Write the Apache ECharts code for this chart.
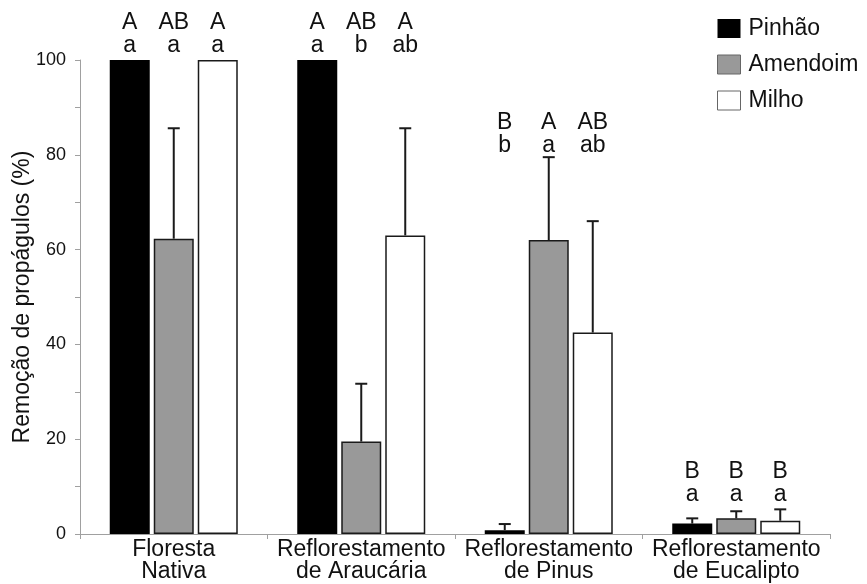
<!DOCTYPE html>
<html>
<head>
<meta charset="utf-8">
<script src="https://cdn.jsdelivr.net/npm/echarts@6/dist/echarts.min.js"></script>
<style>
  html, body { margin: 0; padding: 0; background: #fff; }
  #chart { width: 867px; height: 584px; }
</style>
</head>
<body>
<div id="chart"></div>
<script>
// categorias (ambientes)
const categories = ['Floresta\nNativa', 'Reflorestamento\nde Araucária', 'Reflorestamento\nde Pinus', 'Reflorestamento\nde Eucalipto'];
const seriesNames = ['Pinhão', 'Amendoim', 'Milho'];
const seriesColors = ['#000000', '#999999', '#ffffff'];

// remoção média (%)
const pinhao = [100, 100, 0.8, 2.2];
const amendoim = [62.3, 19.5, 62, 3.3];
const milho = [100, 63, 42.5, 2.8];

// limite superior da barra de erro (null = sem barra)
const pinhaoErr = [null, null, 2.1, 3.3];
const amendoimErr = [85.6, 31.7, 79.5, 4.8];
const milhoErr = [null, 85.6, 66, 5.2];

// letras (maiúscula entre ambientes, minúscula entre propágulos)
const upperLetters = [['A', 'AB', 'A'], ['A', 'AB', 'A'], ['B', 'A', 'AB'], ['B', 'B', 'B']];
const lowerLetters = [['a', 'a', 'a'], ['a', 'b', 'ab'], ['b', 'a', 'ab'], ['a', 'a', 'a']];
// altura (valor do eixo) onde fica a base das letras em cada grupo
const letterBase = [100.5, 100.5, 79.5, 5.8];

const yTicks = [0, 20, 40, 60, 80, 100];

const FONT = '"Liberation Sans", Arial, sans-serif';
const BIG = 23;
const BAR_W = 40;
const BAR_GAP = 4;
const offsets = [-(BAR_W + BAR_GAP), 0, BAR_W + BAR_GAP];

const values = [pinhao, amendoim, milho];
const errs = [pinhaoErr, amendoimErr, milhoErr];

// dados das barras de erro: [categoria, serie, base, topo]
const errData = [];
errs.forEach((arr, s) => {
    arr.forEach((hi, c) => {
        if (hi != null) errData.push([c, s, values[s][c], hi]);
    });
});
// dados das letras: [categoria, serie, base]
const letterData = [];
categories.forEach((_, c) => {
    for (let s = 0; s < 3; s++) letterData.push([c, s, letterBase[c]]);
});

const chart = echarts.init(document.getElementById('chart'));

const barSeries = seriesNames.map((name, i) => ({
    name: name,
    type: 'bar',
    data: values[i],
    barWidth: BAR_W,
    barGap: (BAR_GAP / BAR_W * 100) + '%',
    itemStyle: {
        color: seriesColors[i],
        borderColor: '#1a1a1a',
        borderWidth: i === 0 ? 0 : 1.5
    },
    z: 2
}));

chart.setOption({
    animation: false,
    textStyle: { fontFamily: FONT, color: '#000' },
    legend: {
        orient: 'vertical',
        left: 717,
        top: 17,
        padding: 0,
        icon: 'rect',
        itemWidth: 23,
        itemHeight: 19,
        itemGap: 13,
        textStyle: { fontSize: BIG, color: '#111', fontFamily: FONT, padding: [0, 0, 0, 3] },
        data: seriesNames.map((n, i) => ({
            name: n,
            itemStyle: { color: seriesColors[i], borderColor: i === 0 ? '#000' : '#666', borderWidth: i === 0 ? 0 : 1 }
        }))
    },
    grid: { left: 80, right: 37, top: 60, bottom: 50, outerBoundsMode: 'none' },
    xAxis: {
        type: 'category',
        data: categories,
        axisLine: { lineStyle: { color: '#a0a0a0', width: 1 } },
        axisTick: { show: true, length: 5, lineStyle: { color: '#a0a0a0' } },
        axisLabel: { fontSize: BIG, color: '#111', lineHeight: 22, margin: 5, fontFamily: FONT, interval: 0 }
    },
    yAxis: {
        type: 'value',
        min: 0,
        max: 100,
        interval: 20,
        name: 'Remoção de propágulos (%)',
        nameLocation: 'middle',
        nameGap: 46,
        nameMoveOverlap: false,
        nameTextStyle: { fontSize: BIG, color: '#111', fontFamily: FONT },
        axisLine: { show: true, lineStyle: { color: '#a0a0a0', width: 1 } },
        axisTick: { show: true, length: 5, lineStyle: { color: '#a0a0a0' } },
        minorTick: { show: true, splitNumber: 2, length: 5, lineStyle: { color: '#a0a0a0' } },
        splitLine: { show: false },
        axisLabel: {
            fontSize: 18, color: '#111', margin: 14, fontFamily: FONT,
            formatter: v => (yTicks.indexOf(v) >= 0 ? String(v) : '')
        }
    },
    series: barSeries.concat([
        {
            name: 'erro',
            type: 'custom',
            data: errData,
            clip: false,
            z: 3,
            renderItem: (params, api) => {
                const c = api.value(0);
                const s = api.value(1);
                const lo = api.coord([c, api.value(2)]);
                const hi = api.coord([c, api.value(3)]);
                const x = lo[0] + offsets[s];
                const cap = 6;
                return {
                    type: 'group',
                    children: [
                        { type: 'line', shape: { x1: x, y1: lo[1], x2: x, y2: hi[1] }, style: { stroke: '#1a1a1a', lineWidth: 2 } },
                        { type: 'line', shape: { x1: x - cap, y1: hi[1], x2: x + cap, y2: hi[1] }, style: { stroke: '#1a1a1a', lineWidth: 2 } }
                    ]
                };
            }
        },
        {
            name: 'letras',
            type: 'custom',
            data: letterData,
            clip: false,
            z: 4,
            renderItem: (params, api) => {
                const c = api.value(0);
                const s = api.value(1);
                const p = api.coord([c, api.value(2)]);
                return {
                    type: 'text',
                    x: p[0] + offsets[s],
                    y: p[1],
                    style: {
                        text: upperLetters[c][s] + '\n' + lowerLetters[c][s],
                        font: BIG + 'px ' + FONT,
                        fill: '#111',
                        align: 'center',
                        verticalAlign: 'bottom',
                        lineHeight: 23
                    }
                };
            }
        }
    ])
});
</script>
</body>
</html>
